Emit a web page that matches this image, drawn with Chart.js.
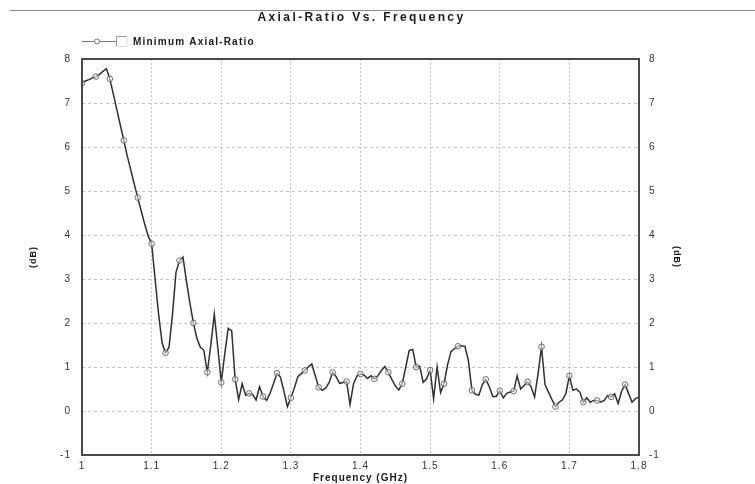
<!DOCTYPE html>
<html>
<head>
<meta charset="utf-8">
<script src="https://cdn.jsdelivr.net/npm/chart.js@4.4.0/dist/chart.umd.min.js"></script>
<style>
  html, body { margin: 0; padding: 0; background: #fff; }
  #wrap { width: 755px; height: 484px; }
</style>
</head>
<body>
<div id="wrap"><canvas id="arChart" width="755" height="484"></canvas></div>
<script>
// frequency points (GHz)
const freqs = [
  1.000, 1.005, 1.010, 1.015, 1.020, 1.025, 1.030, 1.035, 1.040, 1.045,
  1.050, 1.055, 1.060, 1.065, 1.070, 1.075, 1.080, 1.085, 1.090, 1.095,
  1.100, 1.105, 1.110, 1.115, 1.120, 1.125, 1.130, 1.135, 1.140, 1.145,
  1.150, 1.155, 1.160, 1.165, 1.170, 1.175, 1.180, 1.185, 1.190, 1.195,
  1.200, 1.205, 1.210, 1.215, 1.220, 1.225, 1.230, 1.235, 1.240, 1.245,
  1.250, 1.255, 1.260, 1.265, 1.270, 1.275, 1.280, 1.285, 1.290, 1.295,
  1.300, 1.305, 1.310, 1.315, 1.320, 1.325, 1.330, 1.335, 1.340, 1.345,
  1.350, 1.355, 1.360, 1.365, 1.370, 1.375, 1.380, 1.385, 1.390, 1.395,
  1.400, 1.405, 1.410, 1.415, 1.420, 1.425, 1.430, 1.435, 1.440, 1.445,
  1.450, 1.455, 1.460, 1.465, 1.470, 1.475, 1.480, 1.485, 1.490, 1.495,
  1.500, 1.505, 1.510, 1.515, 1.520, 1.525, 1.530, 1.535, 1.540, 1.545,
  1.550, 1.555, 1.560, 1.565, 1.570, 1.575, 1.580, 1.585, 1.590, 1.595,
  1.600, 1.605, 1.610, 1.615, 1.620, 1.625, 1.630, 1.635, 1.640, 1.645,
  1.650, 1.655, 1.660, 1.665, 1.670, 1.675, 1.680, 1.685, 1.690, 1.695,
  1.700, 1.705, 1.710, 1.715, 1.720, 1.725, 1.730, 1.735, 1.740, 1.745,
  1.750, 1.755, 1.760, 1.765, 1.770, 1.775, 1.780, 1.785, 1.790, 1.795,
  1.800
];

// minimum axial ratio (dB)
const axialRatio = [
  7.45, 7.50, 7.53, 7.57, 7.60, 7.65, 7.72, 7.78, 7.55, 7.20,
  6.85, 6.50, 6.15, 5.80, 5.48, 5.16, 4.85, 4.55, 4.25, 3.98,
  3.80, 3.00, 2.20, 1.55, 1.32, 1.45, 2.20, 3.15, 3.42, 3.50,
  2.95, 2.45, 2.00, 1.65, 1.45, 1.38, 0.88, 1.50, 2.20, 1.45,
  0.65, 1.30, 1.88, 1.82, 0.72, 0.26, 0.62, 0.36, 0.40, 0.38,
  0.25, 0.55, 0.33, 0.24, 0.40, 0.62, 0.86, 0.77, 0.45, 0.10,
  0.30, 0.52, 0.78, 0.85, 0.92, 1.00, 1.07, 0.80, 0.54, 0.47,
  0.52, 0.65, 0.88, 0.78, 0.63, 0.65, 0.67, 0.15, 0.62, 0.80,
  0.84, 0.82, 0.74, 0.80, 0.73, 0.80, 0.92, 1.01, 0.88, 0.72,
  0.57, 0.48, 0.62, 1.00, 1.38, 1.40, 1.00, 1.02, 0.65, 0.73,
  0.93, 0.28, 1.00, 0.42, 0.62, 1.05, 1.35, 1.42, 1.47, 1.48,
  1.47, 1.14, 0.47, 0.38, 0.36, 0.60, 0.72, 0.55, 0.33, 0.33,
  0.46, 0.30, 0.40, 0.43, 0.45, 0.80, 0.50, 0.58, 0.66, 0.55,
  0.32, 0.84, 1.46, 0.60, 0.43, 0.26, 0.10, 0.20, 0.25, 0.40,
  0.80, 0.47, 0.50, 0.43, 0.20, 0.30, 0.20, 0.24, 0.24, 0.20,
  0.24, 0.35, 0.32, 0.39, 0.17, 0.45, 0.60, 0.40, 0.20, 0.28,
  0.32
];

const xTickLabels = ['1', '1.1', '1.2', '1.3', '1.4', '1.5', '1.6', '1.7', '1.8'];
const yTickLabels = ['-1', '0', '1', '2', '3', '4', '5', '6', '7', '8'];

const chartTitle = 'Axial-Ratio Vs. Frequency';
const seriesName = 'Minimum Axial-Ratio';
const markerEvery = 4;

const FONT = "'Liberation Sans', Arial, sans-serif";

const pts = freqs.map((f, i) => ({ x: f, y: axialRatio[i] }));

// title, legend, top rule and plot frame
const decorPlugin = {
  id: 'decor',
  beforeDraw(chart) {
    chart.ctx.letterSpacing = '1px';
  },
  afterDraw(chart) {
    const ctx = chart.ctx;
    const a = chart.chartArea;
    ctx.save();

    // top rule
    ctx.strokeStyle = '#8a8a8a';
    ctx.lineWidth = 1;
    ctx.beginPath();
    ctx.moveTo(10, 10.5);
    ctx.lineTo(755, 10.5);
    ctx.stroke();

    // title
    ctx.fillStyle = '#1a1a1a';
    ctx.font = 'bold 12px ' + FONT;
    ctx.letterSpacing = '2.4px';
    ctx.textAlign = 'center';
    ctx.textBaseline = 'middle';
    ctx.fillText(chartTitle, (a.left + a.right) / 2 + 1, 18);

    // legend sample
    ctx.strokeStyle = '#777';
    ctx.lineWidth = 1;
    ctx.beginPath();
    ctx.moveTo(82, 41.5);
    ctx.lineTo(116, 41.5);
    ctx.stroke();
    ctx.fillStyle = '#fff';
    ctx.beginPath();
    ctx.arc(97, 41.5, 2.5, 0, Math.PI * 2);
    ctx.fill();
    ctx.stroke();
    ctx.strokeStyle = '#999';
    ctx.beginPath();
    ctx.moveTo(116.5, 46);
    ctx.lineTo(116.5, 36.5);
    ctx.lineTo(127, 36.5);
    ctx.stroke();
    ctx.strokeStyle = '#ddd';
    ctx.beginPath();
    ctx.moveTo(127, 36.5);
    ctx.lineTo(127, 46.5);
    ctx.lineTo(116.5, 46.5);
    ctx.stroke();

    ctx.fillStyle = '#1a1a1a';
    ctx.font = 'bold 10px ' + FONT;
    ctx.letterSpacing = '1.2px';
    ctx.textAlign = 'left';
    ctx.fillText(seriesName, 133, 42);

    // frame
    ctx.letterSpacing = '0px';
    ctx.strokeStyle = '#4a4a4a';
    ctx.lineWidth = 2;
    ctx.strokeRect(a.left, a.top, a.right - a.left, a.bottom - a.top);
    ctx.restore();
  }
};

const tickFont = { family: FONT, size: 10 };
const titleFont = { family: FONT, size: 9, weight: 'bold' };

const ctx = document.getElementById('arChart').getContext('2d');
new Chart(ctx, {
  type: 'line',
  data: {
    datasets: [{
      label: seriesName,
      data: pts,
      borderColor: '#303030',
      borderWidth: 1.5,
      tension: 0,
      fill: false,
      pointStyle: 'circle',
      pointRadius: c => (c.dataIndex % markerEvery === 0 && c.dataIndex < freqs.length - 1) ? 2.8 : 0,
      pointBorderColor: '#6a6a6a',
      pointBackgroundColor: 'rgba(255,255,255,0.5)',
      pointBorderWidth: 1
    }]
  },
  options: {
    responsive: false,
    animation: false,
    devicePixelRatio: 1,
    layout: { padding: { top: 59, left: 0, right: 0, bottom: 0 } },
    plugins: {
      legend: { display: false },
      title: { display: false },
      tooltip: { enabled: false }
    },
    scales: {
      x: {
        type: 'linear',
        min: 1,
        max: 1.8,
        afterBuildTicks: s => { s.ticks = xTickLabels.map(l => ({ value: parseFloat(l) })); },
        afterFit: s => { s.height = 29; },
        ticks: {
          callback: (v, i) => xTickLabels[i],
          font: tickFont,
          color: '#333',
          padding: 5,
          maxRotation: 0,
          autoSkip: false
        },
        grid: { color: '#c4c4c4', lineWidth: 1, drawTicks: false },
        border: { display: false, dash: [2, 2] },
        title: {
          display: true,
          text: 'Frequency (GHz)',
          font: { family: FONT, size: 10, weight: 'bold' },
          color: '#1a1a1a',
          padding: { top: 0, bottom: 0 }
        }
      },
      y: {
        position: 'left',
        min: -1,
        max: 8,
        afterBuildTicks: s => { s.ticks = yTickLabels.map(l => ({ value: parseFloat(l) })); },
        afterFit: s => { s.width = 82; },
        ticks: {
          callback: (v, i) => yTickLabels[i],
          font: tickFont,
          color: '#333',
          padding: 11
        },
        grid: { color: '#c4c4c4', lineWidth: 1, drawTicks: false },
        border: { display: false, dash: [3, 3] },
        title: {
          display: true,
          text: '(dB)',
          font: titleFont,
          color: '#1a1a1a',
          padding: { top: 28, bottom: 0 }
        }
      },
      y2: {
        position: 'right',
        min: -1,
        max: 8,
        afterBuildTicks: s => { s.ticks = yTickLabels.map(l => ({ value: parseFloat(l) })); },
        afterFit: s => { s.width = 116; },
        ticks: {
          callback: (v, i) => yTickLabels[i],
          font: tickFont,
          color: '#333',
          padding: 10
        },
        grid: { display: false, drawTicks: false },
        border: { display: false },
        title: {
          display: true,
          text: '(dB)',
          font: titleFont,
          color: '#1a1a1a',
          padding: { top: 73, bottom: 0 }
        }
      }
    }
  },
  plugins: [decorPlugin]
});
</script>
</body>
</html>
